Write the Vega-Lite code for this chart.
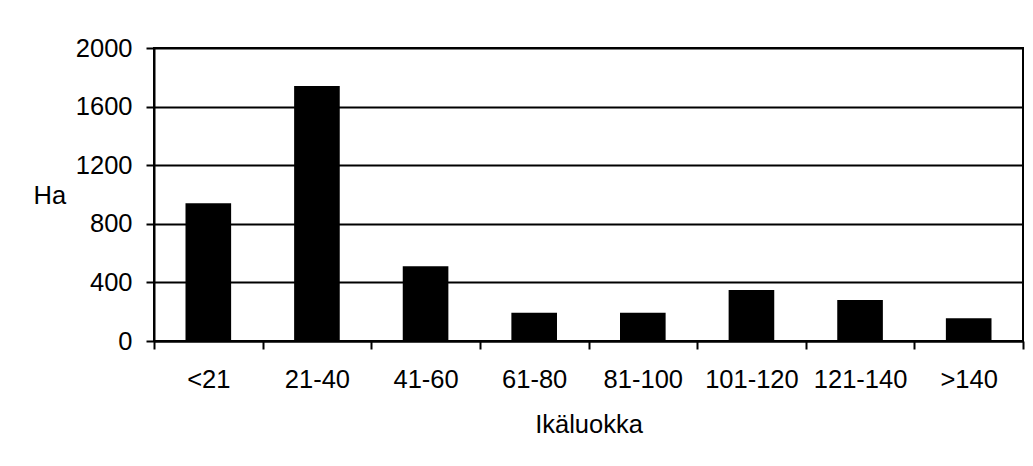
{
  "$schema": "https://vega.github.io/schema/vega-lite/v6.json",
  "width": 869,
  "height": 293,
  "autosize": {"type": "none"},
  "padding": {"left": 154, "top": 48, "right": 10, "bottom": 125},
  "background": "white",
  "data": {
    "values": [
      {"age": "<21", "ha": 940},
      {"age": "21-40", "ha": 1740},
      {"age": "41-60", "ha": 510},
      {"age": "61-80", "ha": 192},
      {"age": "81-100", "ha": 192},
      {"age": "101-120", "ha": 348},
      {"age": "121-140", "ha": 280},
      {"age": ">140", "ha": 155}
    ]
  },
  "mark": {"type": "bar", "color": "black", "width": {"band": 0.42}},
  "encoding": {
    "x": {
      "field": "age",
      "type": "nominal",
      "sort": null,
      "scale": {"paddingInner": 0, "paddingOuter": 0},
      "axis": {
        "title": "Ikäluokka",
        "labelAngle": 0,
        "tickBand": "extent",
        "tickSize": 8,
        "tickWidth": 2,
        "tickColor": "black",
        "domainColor": "black",
        "domainWidth": 2,
        "labelFont": "Liberation Sans",
        "labelFontSize": 25.5,
        "labelColor": "black",
        "labelBaseline": "alphabetic",
        "labelPadding": 38,
        "titleFont": "Liberation Sans",
        "titleFontSize": 25.5,
        "titleFontWeight": "normal",
        "titleColor": "black",
        "titleBaseline": "alphabetic",
        "titleY": 91
      }
    },
    "y": {
      "field": "ha",
      "type": "quantitative",
      "scale": {"domain": [0, 2000]},
      "axis": {
        "title": "Ha",
        "values": [0, 400, 800, 1200, 1600, 2000],
        "format": "d",
        "grid": true,
        "gridColor": "black",
        "gridWidth": 2,
        "gridOpacity": 1,
        "tickSize": 8,
        "tickWidth": 2,
        "tickColor": "black",
        "domainColor": "black",
        "domainWidth": 2,
        "labelFont": "Liberation Sans",
        "labelFontSize": 25.5,
        "labelColor": "black",
        "labelPadding": 14,
        "titleFont": "Liberation Sans",
        "titleFontSize": 25.5,
        "titleFontWeight": "normal",
        "titleColor": "black",
        "titleAngle": 0,
        "titleAlign": "left",
        "titleBaseline": "alphabetic",
        "titleX": -121,
        "titleY": 155
      }
    }
  },
  "config": {"view": {"stroke": "black", "strokeWidth": 2}}
}
